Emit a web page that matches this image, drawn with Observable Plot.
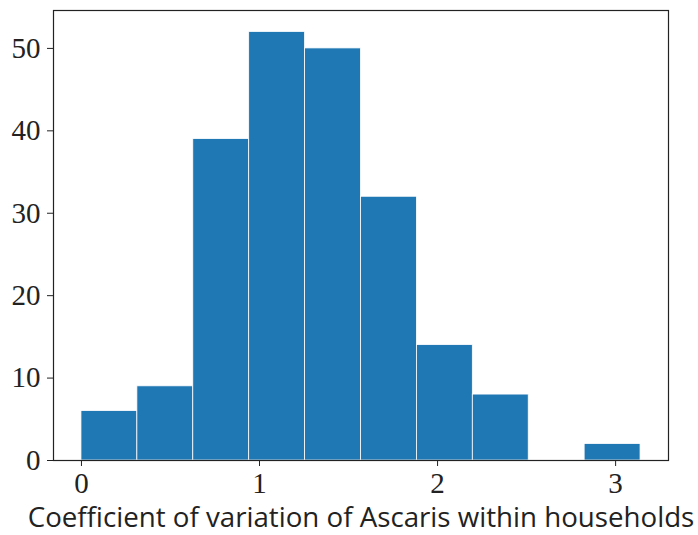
<!DOCTYPE html>
<html>
<head>
<meta charset="utf-8">
<script src="https://cdn.jsdelivr.net/npm/d3@7"></script>
<script src="https://cdn.jsdelivr.net/npm/@observablehq/plot@0.6"></script>
<style>
  html, body { margin: 0; padding: 0; background: #fff; }
</style>
</head>
<body>
<div id="chart"></div>
<script>
const binEdges = [0, 0.314, 0.628, 0.942, 1.256, 1.570, 1.884, 2.198, 2.512, 2.826, 3.140];
const counts = [6, 9, 39, 52, 50, 32, 14, 8, 0, 2];
const xTicks = [0, 1, 2, 3];
const yTicks = [0, 10, 20, 30, 40, 50];
const xLabel = "Coefficient of variation of Ascaris within households";

const bins = counts.map((c, i) => ({x1: binEdges[i], x2: binEdges[i + 1], y: c}));

const chart = Plot.plot({
  width: 698,
  height: 535,
  marginLeft: 53,
  marginRight: 30,
  marginTop: 10,
  marginBottom: 75,
  style: {fontFamily: "Liberation Serif", background: "#fff"},
  x: {domain: [-0.157, 3.297]},
  y: {domain: [0, 54.6]},
  marks: [
    Plot.rectY(bins, {x1: "x1", x2: "x2", y: "y", fill: "#1f77b4", stroke: "#ffffff", strokeWidth: 0.8}),
    Plot.frame({stroke: "#222", strokeWidth: 1.2}),
    Plot.axisX(xTicks, {tickSize: 6, tickPadding: 6, fontSize: 29, label: null, stroke: "#222", fontFamily: "Liberation Serif", color: "#222", tickFormat: d3.format("d")}),
    Plot.axisY(yTicks, {tickSize: 6, tickPadding: 7, fontSize: 29, label: null, stroke: "#222", fontFamily: "Liberation Serif", color: "#222", tickFormat: d3.format("d")}),
    Plot.text([xLabel], {frameAnchor: "bottom", dy: 66, fontSize: 27.7, fontFamily: "Open Sans", fill: "#222", text: d => d})
  ]
});
document.getElementById("chart").appendChild(chart);
</script>
</body>
</html>
